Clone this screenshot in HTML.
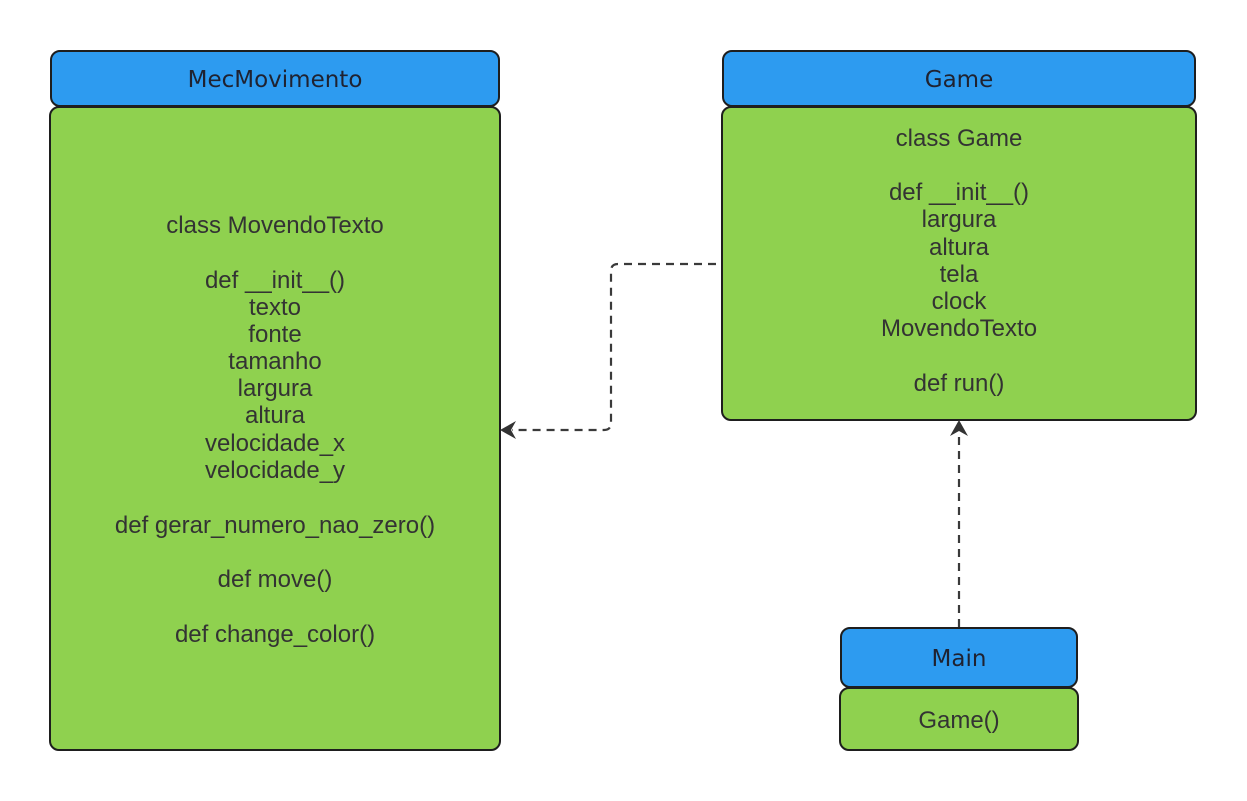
<!DOCTYPE html>
<html><head><meta charset="utf-8"><style>
html,body{margin:0;padding:0;background:#fff;width:1247px;height:801px;overflow:hidden}
svg{display:block}
.t{font-family:"DejaVu Sans",sans-serif;font-size:23px;fill:#1f2230;text-anchor:middle}
.b{font-family:"Liberation Sans",sans-serif;font-size:24px;fill:#333;text-anchor:middle}
</style></head><body>
<svg width="1247" height="801" viewBox="0 0 1247 801">
<g stroke="#1e1e1e" stroke-width="2">
<rect x="51" y="51" width="448" height="55" rx="9" fill="#2d9bf0"/>
<rect x="50" y="107" width="450" height="643" rx="9" fill="#8fd14f"/>
<rect x="723" y="51" width="472" height="55" rx="9" fill="#2d9bf0"/>
<rect x="722" y="107" width="474" height="313" rx="9" fill="#8fd14f"/>
<rect x="841" y="628" width="236" height="59" rx="9" fill="#2d9bf0"/>
<rect x="840" y="688" width="238" height="62" rx="9" fill="#8fd14f"/>
</g>
<g fill="none" stroke="#3a3a3a" stroke-width="2.2" stroke-dasharray="8,6">
<path d="M716,264 L618,264 Q611,264 611,271 L611,423 Q611,430 604,430 L512,430"/>
<path d="M959,627 L959,434"/>
</g>
<path d="M500,430 L516,421 L511,430 L516,439 Z" fill="#333"/>
<path d="M959,420 L950,436 L959,431 L968,436 Z" fill="#333"/>
<text class="t" x="275" y="87">MecMovimento</text>
<text class="t" x="959" y="87">Game</text>
<text class="t" x="959" y="666">Main</text>
<g class="b">
<text x="275" y="233">class MovendoTexto</text>
<text x="275" y="288">def __init__()</text>
<text x="275" y="315">texto</text>
<text x="275" y="342">fonte</text>
<text x="275" y="369">tamanho</text>
<text x="275" y="396">largura</text>
<text x="275" y="423">altura</text>
<text x="275" y="451">velocidade_x</text>
<text x="275" y="478">velocidade_y</text>
<text x="275" y="533">def gerar_numero_nao_zero()</text>
<text x="275" y="587">def move()</text>
<text x="275" y="642">def change_color()</text>
<text x="959" y="146">class Game</text>
<text x="959" y="200">def __init__()</text>
<text x="959" y="227">largura</text>
<text x="959" y="255">altura</text>
<text x="959" y="282">tela</text>
<text x="959" y="309">clock</text>
<text x="959" y="336">MovendoTexto</text>
<text x="959" y="391">def run()</text>
<text x="959" y="728">Game()</text>
</g>
</svg>
</body></html>
